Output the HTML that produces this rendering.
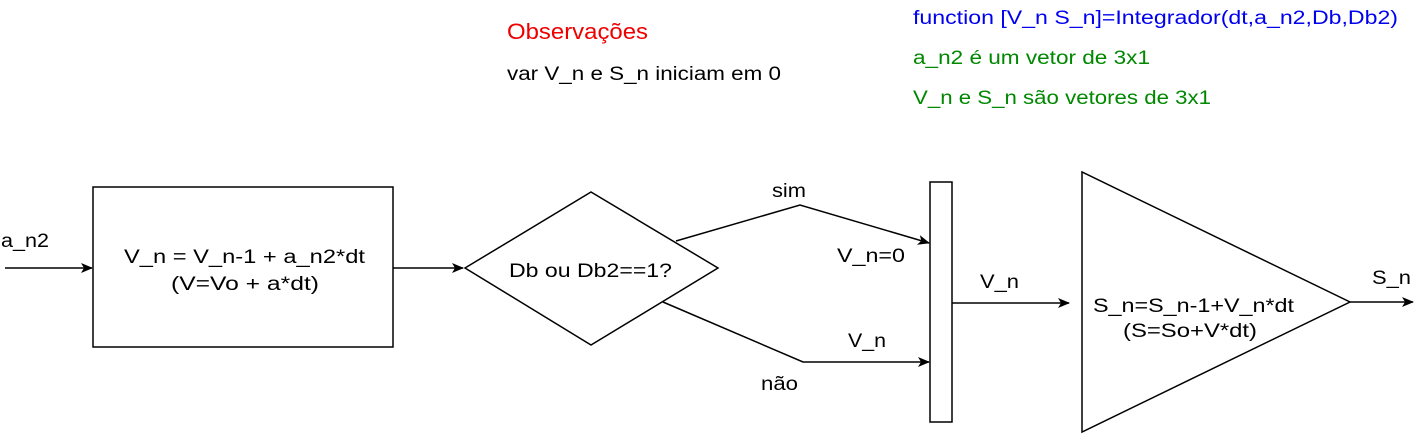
<!DOCTYPE html>
<html><head><meta charset="utf-8"><style>
html,body{margin:0;padding:0;background:#fff;}
svg{display:block;font-family:"Liberation Sans","DejaVu Sans",sans-serif;font-size:19px;}
</style></head><body>
<svg width="1417" height="439" viewBox="0 0 1417 439">
<defs><marker id="ar" markerWidth="12" markerHeight="10" refX="11" refY="5" orient="auto" markerUnits="userSpaceOnUse"><path d="M0,0 L12,5 L0,10 L3,5 Z" fill="#000"/></marker></defs>
<g stroke="#000" stroke-width="1.5" fill="none">
<line x1="5" y1="268" x2="92" y2="268" marker-end="url(#ar)"/>
<rect x="93" y="187" width="300" height="160" fill="#fff"/>
<line x1="393" y1="268" x2="463" y2="268" marker-end="url(#ar)"/>
<polygon points="465,268 591,192 718,268 591,345" fill="#fff"/>
<polyline points="676,241 800,205 929,243" marker-end="url(#ar)"/>
<polyline points="663,302 803,362 929,362" marker-end="url(#ar)"/>
<rect x="930" y="182" width="22" height="240" fill="#fff"/>
<line x1="952" y1="303" x2="1069" y2="303" marker-end="url(#ar)"/>
<polygon points="1082,172 1082,432 1350,302" fill="#fff"/>
<line x1="1350" y1="302" x2="1413" y2="302" marker-end="url(#ar)"/>
</g>
<g fill="#000">
<text x="1" y="247" textLength="48" lengthAdjust="spacingAndGlyphs">a_n2</text>
<text x="124" y="263" textLength="241" lengthAdjust="spacingAndGlyphs">V_n = V_n-1 + a_n2*dt</text>
<text x="171" y="290" textLength="148" lengthAdjust="spacingAndGlyphs">(V=Vo + a*dt)</text>
<text x="509" y="277" textLength="163" lengthAdjust="spacingAndGlyphs">Db ou Db2==1?</text>
<text x="772" y="197" textLength="34" lengthAdjust="spacingAndGlyphs">sim</text>
<text x="837" y="262" textLength="68" lengthAdjust="spacingAndGlyphs">V_n=0</text>
<text x="848" y="347" textLength="38" lengthAdjust="spacingAndGlyphs">V_n</text>
<text x="761" y="390" textLength="37" lengthAdjust="spacingAndGlyphs">não</text>
<text x="980" y="288" textLength="39" lengthAdjust="spacingAndGlyphs">V_n</text>
<text x="1093" y="312" textLength="201" lengthAdjust="spacingAndGlyphs">S_n=S_n-1+V_n*dt</text>
<text x="1123" y="337" textLength="134" lengthAdjust="spacingAndGlyphs">(S=So+V*dt)</text>
<text x="1372" y="284" textLength="39" lengthAdjust="spacingAndGlyphs">S_n</text>
<text x="507" y="39" fill="#e00" font-size="22" textLength="141" lengthAdjust="spacingAndGlyphs">Observações</text>
<text x="507" y="80" textLength="274" lengthAdjust="spacingAndGlyphs">var V_n e S_n iniciam em 0</text>
<text x="913" y="24" fill="#00e" textLength="485" lengthAdjust="spacingAndGlyphs">function [V_n S_n]=Integrador(dt,a_n2,Db,Db2)</text>
<text x="913" y="64" fill="#080" textLength="237" lengthAdjust="spacingAndGlyphs">a_n2 é um vetor de 3x1</text>
<text x="913" y="104" fill="#080" textLength="298" lengthAdjust="spacingAndGlyphs">V_n e S_n são vetores de 3x1</text>
</g>
</svg>
</body></html>
